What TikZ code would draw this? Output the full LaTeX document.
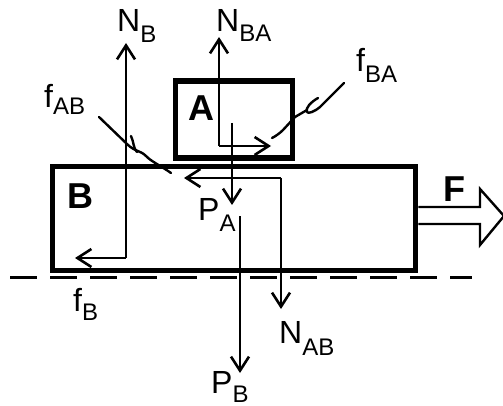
\documentclass[tikz,border=0pt]{standalone}
\usepackage{fontspec}
\setmainfont{Liberation Sans}
\usetikzlibrary{arrows.meta,positioning}

\newcommand{\forcelabel}[3][10pt]{#2\raisebox{-#1}{\fontsize{24}{24}\selectfont #3}}

\begin{document}
\begin{tikzpicture}[
    x=1pt, y=-1pt,
    body/.style={rectangle, draw, line width=5.5pt, inner sep=0pt},
    bodyname/.style={anchor=base west, inner sep=0pt, font=\fontsize{36}{36}\selectfont\bfseries},
    force/.style={-{Straight Barb[length=14pt,width=18pt,line width=2.6pt]}, line width=2.6pt},
    leader/.style={line width=2.4pt, line cap=round, line join=round},
    forcename/.style={anchor=base west, inner sep=0pt, font=\fontsize{32}{32}\selectfont}
]
\useasboundingbox (0,0) rectangle (503,406);

% Blocks
\node[body, minimum width=117pt, minimum height=77pt] (blockA) at (234,119.5) {};
\node[body, minimum width=363pt, minimum height=104pt] (blockB) at (234,218.5) {};
\node[bodyname] (nameA) at (188,121) {A};
\node[bodyname] (nameB) at (67,208) {B};
\node[bodyname] (nameF) at (443,201) {F};

% Ground
\coordinate (groundL) at (10,277);
\coordinate (groundR) at (472,277);
\draw[line width=3pt, dash pattern=on 27pt off 13pt] (groundL) -- (groundR);

% Forces on A
\coordinate (nbaStart) at (219,146);
\coordinate (nbaEnd) at (219,37);
\coordinate (fbaEnd) at (271,146);
\coordinate (paStart) at (232,123);
\coordinate (paEnd) at (232,205);
\draw[force] (nbaStart) -- (nbaEnd);
\draw[force] (nbaStart) -- (fbaEnd);
\draw[force] (paStart) -- (paEnd);

% Forces on B
\coordinate (nbCorner) at (126,258);
\coordinate (nbEnd) at (126,43);
\coordinate (fbEnd) at (75,258);
\coordinate (nabCorner) at (281,178);
\coordinate (nabEnd) at (281,309);
\coordinate (fabEnd) at (184,178);
\coordinate (pbStart) at (240,216);
\coordinate (pbEnd) at (240,373);
\draw[force] (nbCorner) -- (nbEnd);
\draw[force] (nbCorner) -- (fbEnd);
\draw[force] (nabCorner) -- (nabEnd);
\draw[force] (nabCorner) -- (fabEnd);
\draw[force] (pbStart) -- (pbEnd);

% Applied force
\draw[line width=2.4pt] (blockB.east |- 0,207) -- (480,207) -- (480,189) -- (504,216)
    -- (480,245) -- (480,224) -- (blockB.east |- 0,224);

% Leaders
\draw[leader] (99,117) -- (127,144) .. controls (135,152) and (140,150) .. (146,156)
    .. controls (152,162) and (158,164) .. (171,173);
\draw[leader] (131,136) .. controls (134,142) and (133,148) .. (137,152);
\draw[leader] (344,83) -- (320,107) .. controls (314,112) and (308,114) .. (307,112)
    .. controls (305,108) and (311,102) .. (318,98);
\draw[leader] (307,110) -- (295,117) -- (283,130) .. controls (280,133) and (276,136) .. (272,138);

% Labels
\node[forcename] (labelNB) at (117,32) {\forcelabel[11pt]{N}{B}};
\node[forcename] (labelNBA) at (216,32) {\forcelabel{N}{BA}};
\node[forcename] (labelfAB) at (44,108) {\forcelabel[7pt]{f}{AB}};
\node[forcename] (labelfBA) at (356,72) {\forcelabel[11pt]{f}{BA}};
\node[forcename] (labelPA) at (198,220) {\forcelabel[11pt]{P}{A}};
\node[forcename] (labelPB) at (211,393) {\forcelabel[9pt]{P}{B}};
\node[forcename] (labelNAB) at (279,343) {\forcelabel[12pt]{N}{AB}};
\node[forcename] (labelfB) at (73,311) {\forcelabel[9pt]{f}{B}};

\end{tikzpicture}
\end{document}
